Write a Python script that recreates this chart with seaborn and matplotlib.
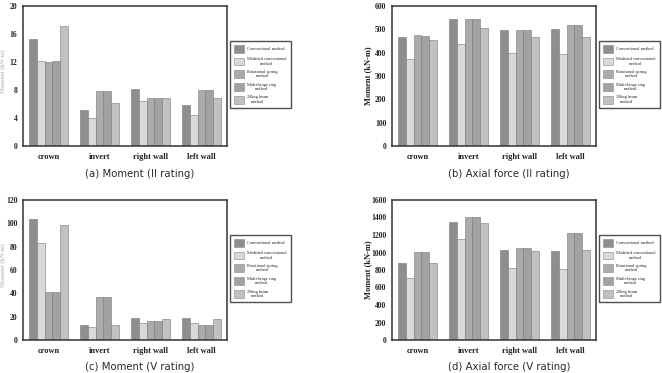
import numpy as np
import pandas as pd
import matplotlib
matplotlib.use("Agg")
import matplotlib.pyplot as plt
import seaborn as sns
from matplotlib.patches import Patch

sns.set_theme(style="white")
plt.rcParams['font.family'] = ['DejaVu Sans']

locations = ["crown", "invert", "right wall", "left wall"]
methods = ["Conventional method", "Modified conventional\nmethod",
           "Rotational spring\nmethod", "Multi-hinge ring\nmethod",
           "2Ring beam\nmethod"]
colors = ["#8e8e8e", "#d9d9d9", "#ababab", "#a2a2a2", "#c1c1c1"]

# values per method, ordered by location
moment_II = [[15.3, 5.1, 8.1, 5.8],
             [12.1, 4.0, 6.4, 4.5],
             [12.0, 7.8, 6.8, 8.0],
             [12.1, 7.8, 6.8, 8.0],
             [17.1, 6.2, 6.9, 6.8]]
axial_II = [[468, 545, 498, 503],
            [375, 438, 397, 396],
            [477, 545, 498, 518],
            [472, 545, 498, 518],
            [453, 505, 466, 468]]
moment_V = [[104, 13, 19, 19],
            [83, 11, 15, 15],
            [41, 37, 16, 12.5],
            [41, 37, 16, 12.5],
            [99, 12.5, 18, 18]]
axial_V = [[880, 1345, 1025, 1020],
           [705, 1155, 820, 815],
           [1010, 1405, 1050, 1220],
           [1010, 1405, 1050, 1220],
           [880, 1335, 1020, 1030]]

yticks_a = [0, 4, 8, 12, 16, 20]
yticks_b = [0, 100, 200, 300, 400, 500, 600]
yticks_c = [0, 20, 40, 60, 80, 100, 120]
yticks_d = [0, 200, 400, 600, 800, 1000, 1200, 1400, 1600]

captions = ["(a) Moment (II rating)", "(b) Axial force (II rating)",
            "(c) Moment (V rating)", "(d) Axial force (V rating)"]
ylabel = "Moment (kN-m)"

W, H = 662, 373
fig = plt.figure(figsize=(W / 100, H / 100), dpi=100)

def frac_rect(x0, y0, x1, y1):
    return [x0 / W, 1 - y1 / H, (x1 - x0) / W, (y1 - y0) / H]

panels = [
    (moment_II, yticks_a, (23, 6, 227, 146), (230, 41), (140, 174), None),
    (axial_II, yticks_b, (392, 6, 596, 146), (599, 41), (509, 174), 368),
    (moment_V, yticks_c, (23, 200, 227, 340), (230, 235), (140, 367), None),
    (axial_V, yticks_d, (392, 200, 596, 340), (599, 235), (509, 367), 368),
]

serif = ['Liberation Serif', 'DejaVu Serif']

for i, (vals, yt, rect, legpos, cappos, ylx) in enumerate(panels):
    ax = fig.add_axes(frac_rect(*rect))
    rows = []
    for m, mv in zip(methods, vals):
        for loc, v in zip(locations, mv):
            rows.append({"loc": loc, "method": m, "value": v})
    df = pd.DataFrame(rows)
    sns.barplot(data=df, x="loc", y="value", hue="method", hue_order=methods,
                order=locations, palette=colors, width=0.78, ax=ax,
                edgecolor="#777777", linewidth=0.4, legend=False, saturation=1)
    ax.set_xlim(-0.5, 3.5)
    ax.set_ylim(yt[0], yt[-1])
    ax.set_yticks(yt)
    ax.set_yticklabels([str(t) for t in yt], family=serif, fontsize=5.5,
                       fontweight='bold', color="#222222")
    ax.set_xticks(range(len(locations)))
    ax.set_xticklabels(locations, family=serif, fontsize=6,
                       fontweight='bold', color="#222222")
    ax.tick_params(axis='both', length=0, pad=4)
    ax.tick_params(axis='x', pad=5)
    ax.set_xlabel("")
    ax.set_ylabel("")
    for s in ax.spines.values():
        s.set_color("#333333")
        s.set_linewidth(1.1)
    handles = [Patch(facecolor=c, edgecolor="#888888", linewidth=0.4) for c in colors]
    leg = ax.legend(handles, methods, loc="upper left",
                    bbox_to_anchor=(legpos[0] / W, 1 - legpos[1] / H),
                    bbox_transform=fig.transFigure,
                    prop={'family': serif, 'size': 3.2},
                    frameon=True, fancybox=False, edgecolor="#222222",
                    handlelength=2.25, handleheight=2.25, labelspacing=0.95,
                    borderpad=0.95, handletextpad=0.6, borderaxespad=0)
    leg.get_frame().set_linewidth(1.0)
    for t in leg.get_texts():
        t.set_multialignment('center')
    fig.text(cappos[0] / W, 1 - cappos[1] / H, captions[i],
             ha="center", va="center", fontsize=7.3, color="#2a2a2a")
    if ylx is not None:
        fig.text(ylx / W, 1 - ((rect[1] + rect[3]) / 2) / H, ylabel,
                 rotation=90, ha="center", va="center", family=serif,
                 fontsize=6, fontweight='bold', color="#222222")
    else:
        fig.text(3 / W, 1 - ((rect[1] + rect[3]) / 2 - 5) / H, ylabel,
                 rotation=90, ha="center", va="center", family=serif,
                 fontsize=4.5, fontweight='bold', color="#c4c4c4")

fig.savefig("out.png", dpi=100)
